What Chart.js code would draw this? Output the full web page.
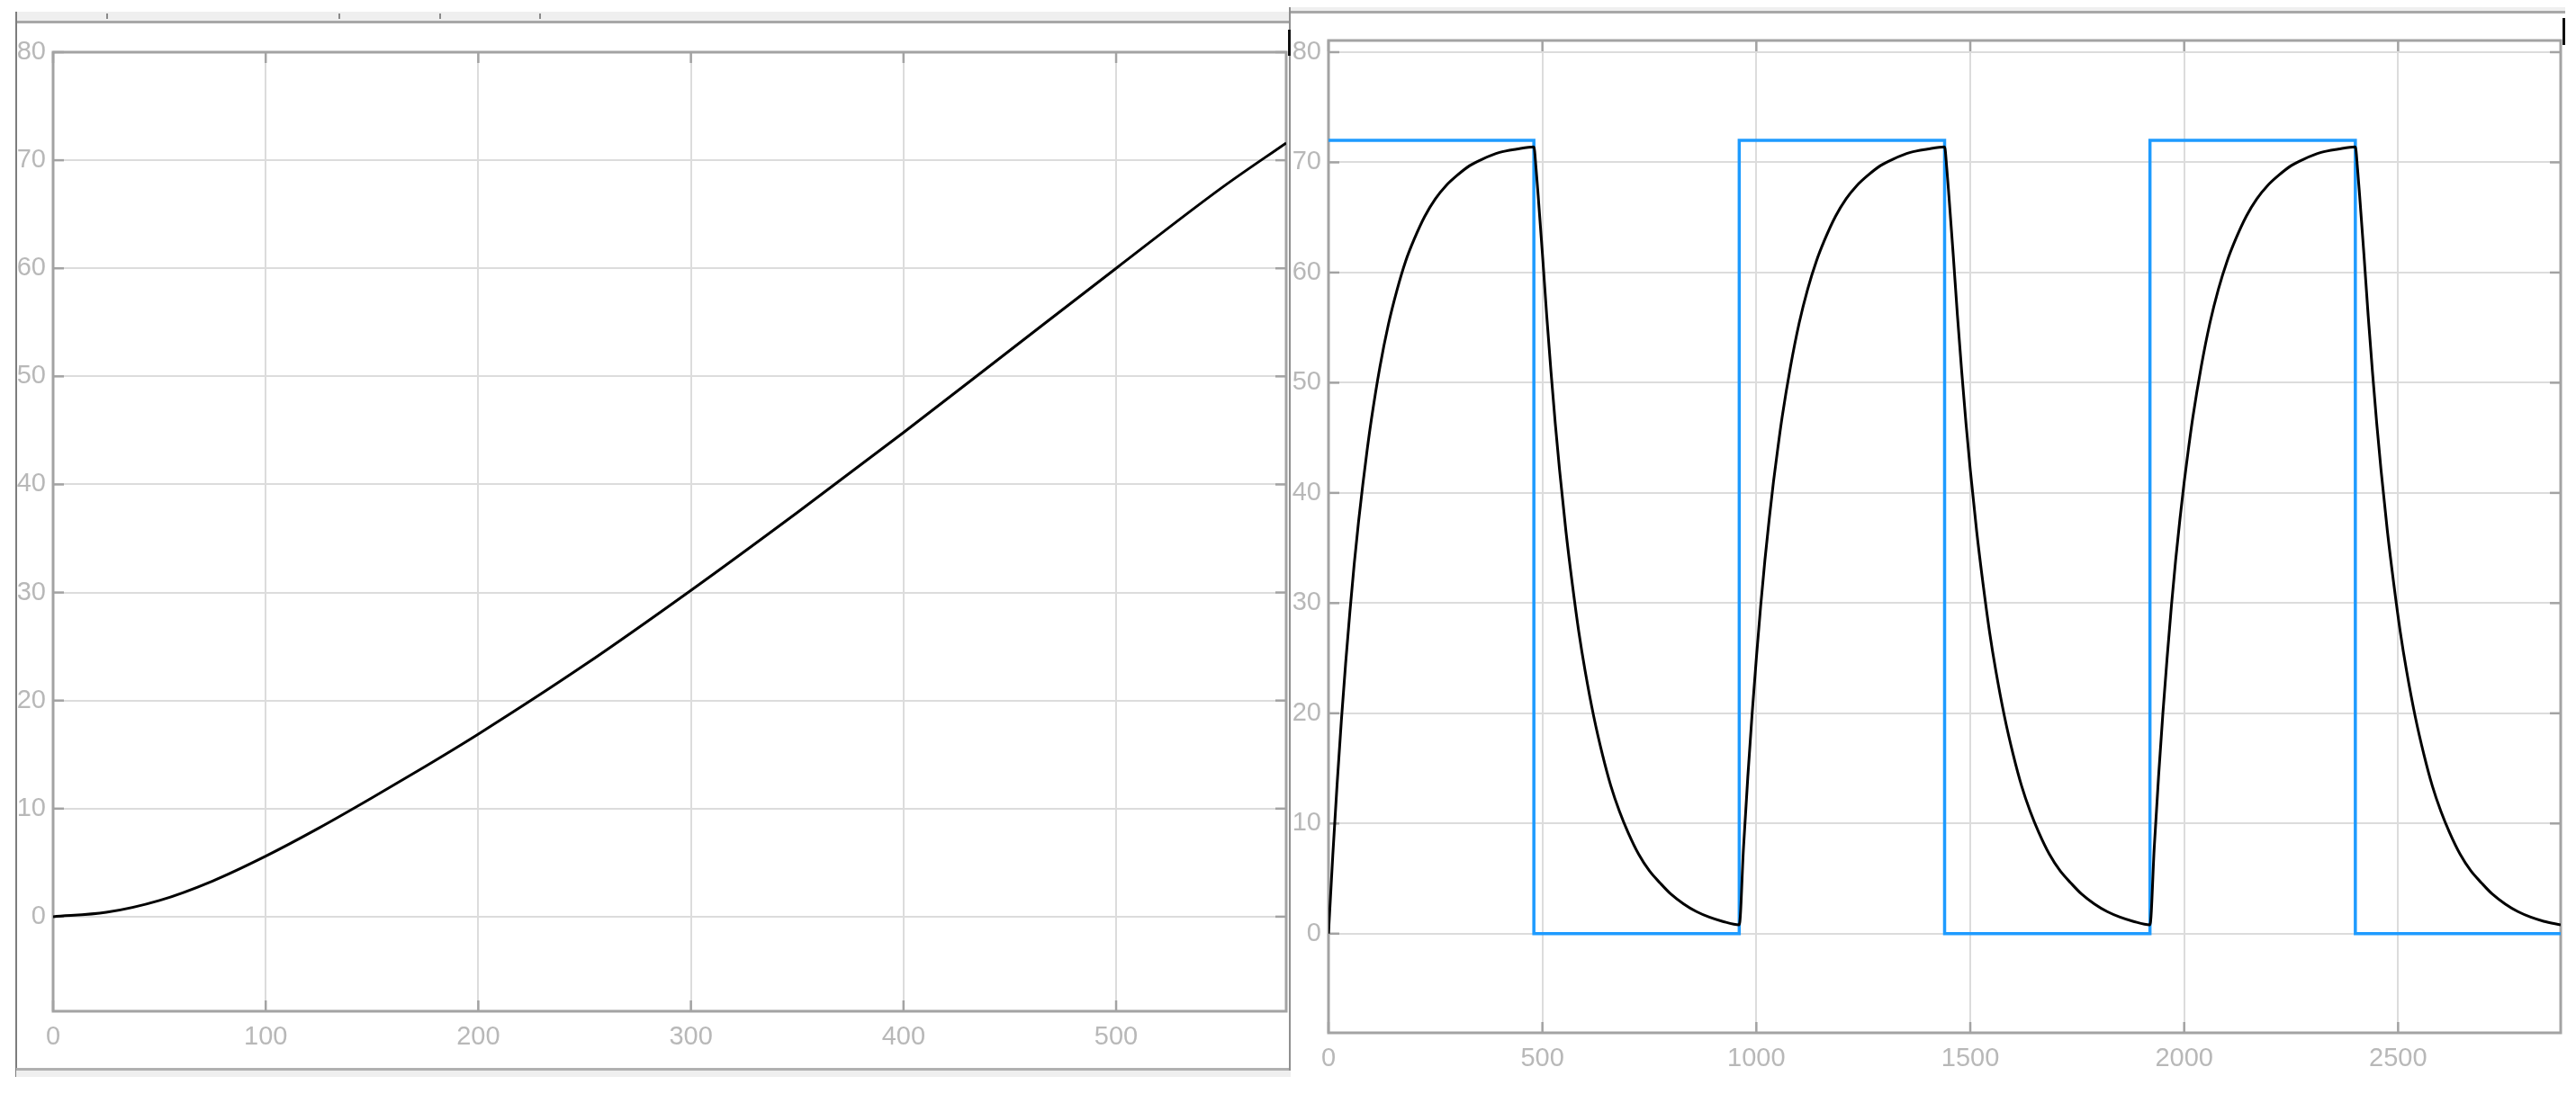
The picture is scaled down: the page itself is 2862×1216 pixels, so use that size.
<!DOCTYPE html>
<html><head><meta charset="utf-8">
<script src="https://cdn.jsdelivr.net/npm/chart.js@4.4.0/dist/chart.umd.min.js"></script>
<style>
html,body{margin:0;padding:0;background:#fff;width:2862px;height:1216px;overflow:hidden;position:relative;}
canvas{position:absolute;top:0;}
.a{position:absolute;}
</style></head><body>
<canvas id="c1" width="1434" height="1216" style="left:0px"></canvas>
<canvas id="c2" width="1428" height="1216" style="left:1434px"></canvas>

<!-- window chrome, left panel -->
<div class="a" style="left:18px;top:13px;width:1415px;height:10px;background:#efefef;border-bottom:3px solid #a8a8a8"></div>
<div class="a" style="left:118px;top:15px;width:2px;height:6px;background:#8a8a8a"></div>
<div class="a" style="left:376px;top:15px;width:2px;height:6px;background:#8a8a8a"></div>
<div class="a" style="left:488px;top:15px;width:2px;height:6px;background:#8a8a8a"></div>
<div class="a" style="left:599px;top:15px;width:2px;height:6px;background:#8a8a8a"></div>
<div class="a" style="left:17px;top:13px;width:2px;height:1184px;background:#7d7d7d"></div>
<div class="a" style="left:18px;top:1187px;width:1416px;height:3px;background:#b0b0b0"></div>
<div class="a" style="left:18px;top:1190px;width:1416px;height:7px;background:#efefef"></div>
<div class="a" style="left:1432px;top:8px;width:2px;height:1182px;background:#8f8f8f"></div>
<div class="a" style="left:1431px;top:33px;width:3px;height:29px;background:#111"></div>
<!-- window chrome, right panel -->
<div class="a" style="left:1434px;top:8px;width:1416px;height:4px;background:#efefef;border-bottom:3px solid #a8a8a8"></div>
<div class="a" style="left:2847px;top:20px;width:3px;height:30px;background:#111"></div>

<script>
// ---------- data ----------
// left scope
const leftTime  = [0, 25, 50, 75, 100, 125, 150, 175, 200, 250, 300, 350, 400, 450, 500, 550, 580];
const leftValue = [0, 0.4, 1.5, 3.3, 5.6, 8.2, 11.0, 13.9, 16.9, 23.3, 30.2, 37.4, 44.8, 52.4, 60.0, 67.5, 71.6];
const leftXTicks = [0, 100, 200, 300, 400, 500];
const leftYTicks = [0, 10, 20, 30, 40, 50, 60, 70, 80];

// right scope: black response (three charge / discharge cycles)
const respTime = [
  0, 10, 20, 30, 40, 50, 60, 70, 80, 90, 100, 120, 140, 160, 180, 200, 225, 250, 275, 300, 330, 360, 400, 440, 480,
  485, 490, 500, 510, 520, 530, 540, 555, 570, 585, 600, 620, 640, 660, 680, 700, 725, 750, 775, 800, 830, 860, 890, 920, 960,
  970, 980, 990, 1000, 1010, 1020, 1030, 1040, 1050, 1060, 1080, 1100, 1120, 1140, 1160, 1185, 1210, 1235, 1260, 1290, 1320, 1360, 1400, 1440,
  1445, 1450, 1460, 1470, 1480, 1490, 1500, 1515, 1530, 1545, 1560, 1580, 1600, 1620, 1640, 1660, 1685, 1710, 1735, 1760, 1790, 1820, 1850, 1880, 1920,
  1930, 1940, 1950, 1960, 1970, 1980, 1990, 2000, 2010, 2020, 2040, 2060, 2080, 2100, 2120, 2145, 2170, 2195, 2220, 2250, 2280, 2320, 2360, 2400,
  2405, 2410, 2420, 2430, 2440, 2450, 2460, 2475, 2490, 2505, 2520, 2540, 2560, 2580, 2600, 2620, 2645, 2670, 2695, 2720, 2750, 2780, 2810, 2840, 2880
];
const respValue = [
  0, 7.1, 13.5, 19.3, 24.5, 29.2, 33.5, 37.3, 40.7, 43.8, 46.6, 51.4, 55.3, 58.4, 61.0, 63.0, 65.1, 66.7, 67.9, 68.8, 69.7, 70.3, 70.9, 71.2, 71.4,
  69.5, 67, 61.7, 56.1, 51.0, 46.3, 42.1, 36.5, 31.7, 27.4, 23.8, 19.7, 16.3, 13.4, 11.1, 9.2, 7.2, 5.7, 4.6, 3.6, 2.7, 2.0, 1.5, 1.13, 0.8,
  7.8, 14.2, 19.9, 25.0, 29.7, 33.9, 37.6, 41.0, 44.0, 46.8, 51.5, 55.4, 58.5, 61.0, 63.0, 65.1, 66.7, 67.9, 68.8, 69.7, 70.3, 70.9, 71.2, 71.4,
  69.5, 67, 61.7, 56.1, 51.0, 46.3, 42.1, 36.5, 31.7, 27.4, 23.8, 19.7, 16.3, 13.4, 11.1, 9.2, 7.2, 5.7, 4.6, 3.6, 2.7, 2.0, 1.5, 1.13, 0.8,
  7.8, 14.2, 19.9, 25.0, 29.7, 33.9, 37.6, 41.0, 44.0, 46.8, 51.5, 55.4, 58.5, 61.0, 63.0, 65.1, 66.7, 67.9, 68.8, 69.7, 70.3, 70.9, 71.2, 71.4,
  69.5, 67, 61.7, 56.1, 51.0, 46.3, 42.1, 36.5, 31.7, 27.4, 23.8, 19.7, 16.3, 13.4, 11.1, 9.2, 7.2, 5.7, 4.6, 3.6, 2.7, 2.0, 1.5, 1.13, 0.8
];
// right scope: blue square wave
const stepTime  = [0, 480, 480, 960, 960, 1440, 1440, 1920, 1920, 2400, 2400, 2880];
const stepValue = [72, 72, 0, 0, 72, 72, 0, 0, 72, 72, 0, 0];
const rightXTicks = [0, 500, 1000, 1500, 2000, 2500];
const rightYTicks = [0, 10, 20, 30, 40, 50, 60, 70, 80];

// ---------- helpers ----------
const FONT = "'Liberation Sans', Arial, sans-serif";
const pts = (xs, ys) => xs.map((x, i) => ({x: x, y: ys[i]}));

const scopeFrame = {
  id: 'scopeFrame',
  beforeDatasetsDraw(chart) {
    const {ctx, chartArea: a, scales: {x, y}} = chart;
    ctx.save();
    ctx.strokeStyle = '#a3a3a3';
    ctx.lineWidth = 2.5;
    const L = 12;
    const seg = (x1, y1, x2, y2) => { ctx.beginPath(); ctx.moveTo(x1, y1); ctx.lineTo(x2, y2); ctx.stroke(); };
    x.ticks.forEach(t => { const p = x.getPixelForValue(t.value); seg(p, a.bottom, p, a.bottom - L); seg(p, a.top, p, a.top + L); });
    y.ticks.forEach(t => { const p = y.getPixelForValue(t.value); seg(a.left, p, a.left + L, p); seg(a.right, p, a.right - L, p); });
    ctx.lineWidth = 3;
    ctx.strokeRect(a.left, a.top, a.right - a.left, a.bottom - a.top);
    ctx.restore();
  }
};

function scopeOptions(cfg) {
  return {
    responsive: false,
    animation: false,
    layout: {padding: cfg.padding},
    plugins: {legend: {display: false}, tooltip: {enabled: false}},
    scales: {
      x: {
        type: 'linear', min: cfg.xmin, max: cfg.xmax, offset: false,
        afterBuildTicks: s => { s.ticks = cfg.xTicks.map(v => ({value: v})); },
        afterFit: s => { s.height = cfg.xh; },
        grid: {color: '#dcdcdc', lineWidth: 2, drawTicks: false},
        border: {display: false},
        ticks: {color: '#b8b8b8', font: {family: FONT, size: 29}, padding: 12, maxRotation: 0, autoSkip: false,
                callback: v => String(v)}
      },
      y: {
        type: 'linear', min: cfg.ymin, max: cfg.ymax,
        afterBuildTicks: s => { s.ticks = cfg.yTicks.map(v => ({value: v})); },
        afterFit: s => { s.width = cfg.yw; },
        grid: {color: '#dcdcdc', lineWidth: 2, drawTicks: false},
        border: {display: false},
        ticks: {color: '#b8b8b8', font: {family: FONT, size: 29}, padding: 8, autoSkip: false,
                callback: v => String(v)}
      }
    }
  };
}

new Chart(document.getElementById('c1'), {
  type: 'line',
  data: {datasets: [{
    data: pts(leftTime, leftValue), borderColor: '#000', borderWidth: 3,
    pointRadius: 0, cubicInterpolationMode: 'monotone', fill: false
  }]},
  options: scopeOptions({padding: {top: 58, right: 5, left: 0, bottom: 0}, xmin: 0, xmax: 580, ymin: -8.75, ymax: 80,
    xTicks: leftXTicks, yTicks: leftYTicks, xh: 92, yw: 59}),
  plugins: [scopeFrame]
});

new Chart(document.getElementById('c2'), {
  type: 'line',
  data: {datasets: [
    {data: pts(respTime, respValue), borderColor: '#000', borderWidth: 3, pointRadius: 0, cubicInterpolationMode: 'monotone', fill: false},
    {data: pts(stepTime, stepValue), borderColor: '#1e9bff', borderWidth: 3.5, pointRadius: 0, tension: 0, fill: false}
  ]},
  options: scopeOptions({padding: {top: 45, right: 17, left: 0, bottom: 0}, xmin: 0, xmax: 2880, ymin: -9, ymax: 81.06,
    xTicks: rightXTicks, yTicks: rightYTicks, xh: 68, yw: 42}),
  plugins: [scopeFrame]
});
</script>
</body></html>
